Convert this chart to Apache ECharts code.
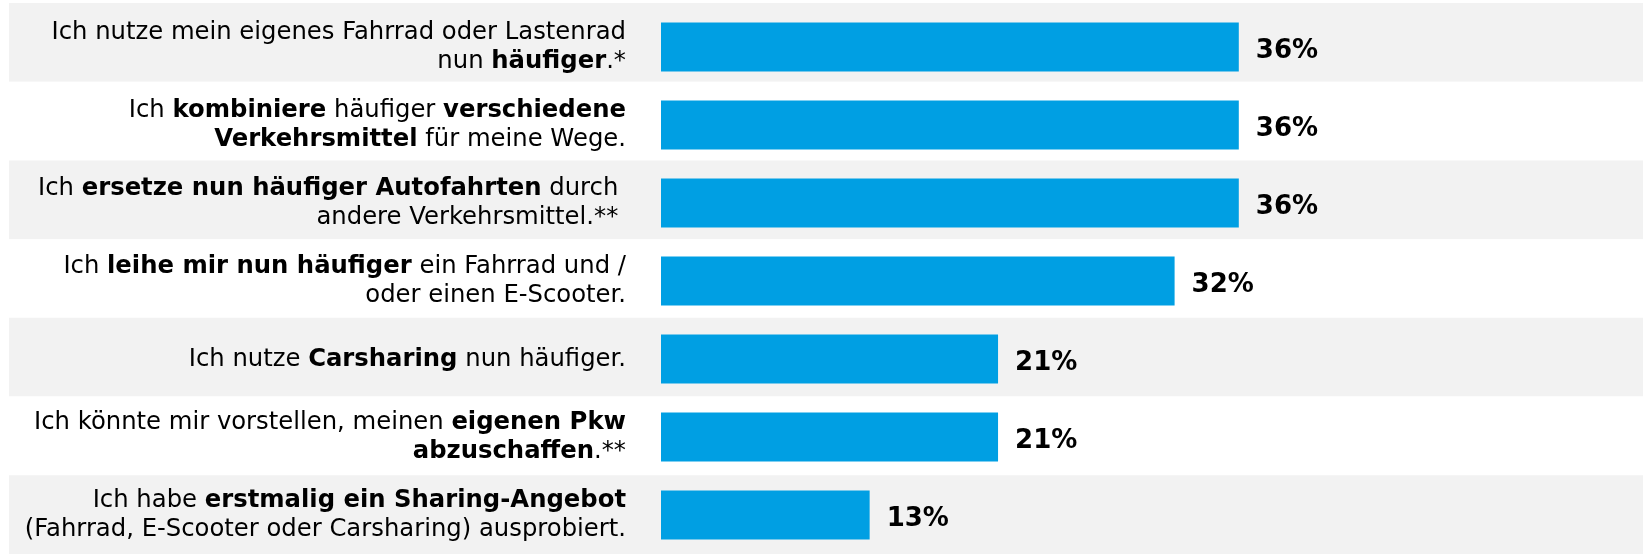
<!DOCTYPE html>
<html>
<head>
<meta charset="utf-8">
<script src="https://cdn.jsdelivr.net/npm/echarts@6/dist/echarts.min.js"></script>
<style>
html,body{margin:0;padding:0;background:#fff;}
#chart{width:1643px;height:554px;}
</style>
</head>
<body>
<div id="chart"></div>
<script>
// Category labels (rich text markup: {b|...} = bold)
const categories = [
  "Ich nutze mein eigenes Fahrrad oder Lastenrad\nnun {b|häufiger}.*",
  "Ich {b|kombiniere} häufiger {b|verschiedene}\n{b|Verkehrsmittel} für meine Wege.",
  "Ich {b|ersetze nun häufiger Autofahrten} durch \nandere Verkehrsmittel.** ",
  "Ich {b|leihe mir nun häufiger} ein Fahrrad und /\noder einen E-Scooter.",
  "Ich nutze {b|Carsharing} nun häufiger.",
  "Ich könnte mir vorstellen, meinen {b|eigenen Pkw}\n{b|abzuschaffen}.**",
  "Ich habe {b|erstmalig ein Sharing-Angebot}\n(Fahrrad, E-Scooter oder Carsharing) ausprobiert."
];
// Share of respondents in percent
const values = [36, 36, 36, 32, 21, 21, 13];
const bandColors = ['#f2f2f2', '#ffffff'];

const FONT = 'DejaVu Sans';
const chart = echarts.init(document.getElementById('chart'), null, {renderer: 'canvas'});
chart.setOption({
  animation: false,
  backgroundColor: '#ffffff',
  grid: [
    {left: 9, right: 0, top: 3, height: 553, containLabel: false},
    {left: 661, width: 963, top: 8, height: 553, containLabel: false}
  ],
  xAxis: [
    {gridIndex: 0, type: 'value', min: 0, max: 1, show: false},
    {gridIndex: 1, type: 'value', min: 0, max: 60, show: false}
  ],
  yAxis: [
    {
      gridIndex: 0, type: 'category', inverse: true, data: categories,
      axisLine: {show: false}, axisTick: {show: false}, axisLabel: {show: false},
      splitLine: {show: false},
      splitArea: {show: true, interval: 0, areaStyle: {color: bandColors}}
    },
    {
      gridIndex: 1, type: 'category', inverse: true, data: categories,
      axisLine: {show: false}, axisTick: {show: false},
      axisLabel: {
        interval: 0, margin: 35, align: 'right',
        fontFamily: FONT, fontSize: 24.3, lineHeight: 29, color: '#000',
        padding: [1, 0, 0, 0],
        rich: {
          b: {fontFamily: FONT, fontSize: 24.3, lineHeight: 29, fontWeight: 'bold', color: '#000'}
        }
      },
      splitLine: {show: false}
    }
  ],
  series: [{
    type: 'bar',
    xAxisIndex: 1, yAxisIndex: 1,
    data: values,
    barWidth: 49,
    itemStyle: {color: '#009fe3'},
    label: {
      show: true, position: 'right', distance: 17, offset: [0, 4],
      formatter: '{c}%',
      fontFamily: FONT, fontSize: 26, fontWeight: 'bold', color: '#000'
    }
  }]
});
</script>
</body>
</html>
